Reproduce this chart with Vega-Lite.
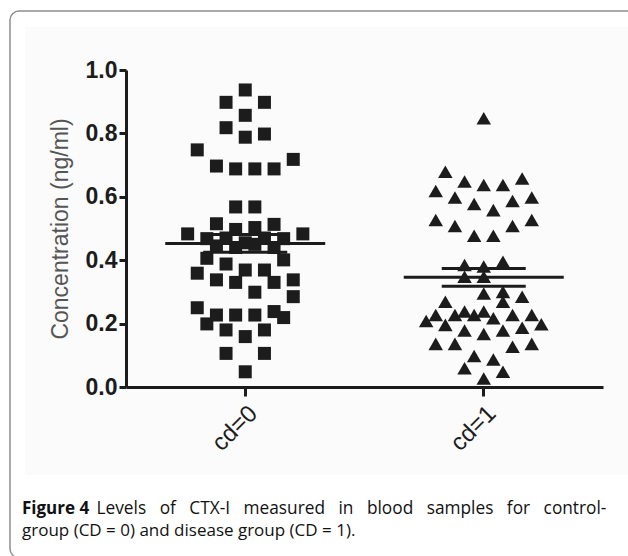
{
  "$schema": "https://vega.github.io/schema/vega-lite/v6.json",
  "width": 477,
  "height": 317,
  "autosize": "none",
  "padding": {"left": 126, "top": 70, "right": 25, "bottom": 169},
  "background": "white",
  "config": {"view": {"stroke": null}},
  "datasets": {
    "pts": [
      {"group": "cd=0", "value": 0.937, "slot": 0},
      {"group": "cd=0", "value": 0.898, "slot": -2},
      {"group": "cd=0", "value": 0.898, "slot": 2},
      {"group": "cd=0", "value": 0.857, "slot": 0},
      {"group": "cd=0", "value": 0.818, "slot": -2},
      {"group": "cd=0", "value": 0.788, "slot": 0},
      {"group": "cd=0", "value": 0.798, "slot": 2},
      {"group": "cd=0", "value": 0.748, "slot": -5},
      {"group": "cd=0", "value": 0.697, "slot": -3},
      {"group": "cd=0", "value": 0.688, "slot": -1},
      {"group": "cd=0", "value": 0.688, "slot": 1},
      {"group": "cd=0", "value": 0.688, "slot": 3},
      {"group": "cd=0", "value": 0.718, "slot": 5},
      {"group": "cd=0", "value": 0.568, "slot": -1},
      {"group": "cd=0", "value": 0.568, "slot": 1},
      {"group": "cd=0", "value": 0.483, "slot": -6},
      {"group": "cd=0", "value": 0.515, "slot": -3},
      {"group": "cd=0", "value": 0.468, "slot": -4},
      {"group": "cd=0", "value": 0.47, "slot": -2},
      {"group": "cd=0", "value": 0.497, "slot": -1},
      {"group": "cd=0", "value": 0.455, "slot": 0},
      {"group": "cd=0", "value": 0.503, "slot": 1},
      {"group": "cd=0", "value": 0.47, "slot": 2},
      {"group": "cd=0", "value": 0.513, "slot": 3},
      {"group": "cd=0", "value": 0.468, "slot": 4},
      {"group": "cd=0", "value": 0.483, "slot": 6},
      {"group": "cd=0", "value": 0.445, "slot": -3},
      {"group": "cd=0", "value": 0.44, "slot": -1},
      {"group": "cd=0", "value": 0.45, "slot": 1},
      {"group": "cd=0", "value": 0.44, "slot": 3},
      {"group": "cd=0", "value": 0.406, "slot": -4},
      {"group": "cd=0", "value": 0.388, "slot": -2},
      {"group": "cd=0", "value": 0.401, "slot": 4},
      {"group": "cd=0", "value": 0.359, "slot": -5},
      {"group": "cd=0", "value": 0.338, "slot": -3},
      {"group": "cd=0", "value": 0.33, "slot": -1},
      {"group": "cd=0", "value": 0.369, "slot": 0},
      {"group": "cd=0", "value": 0.369, "slot": 2},
      {"group": "cd=0", "value": 0.33, "slot": 3},
      {"group": "cd=0", "value": 0.338, "slot": 5},
      {"group": "cd=0", "value": 0.299, "slot": 1},
      {"group": "cd=0", "value": 0.285, "slot": 5},
      {"group": "cd=0", "value": 0.25, "slot": -5},
      {"group": "cd=0", "value": 0.227, "slot": -3},
      {"group": "cd=0", "value": 0.227, "slot": -1},
      {"group": "cd=0", "value": 0.227, "slot": 1},
      {"group": "cd=0", "value": 0.238, "slot": 3},
      {"group": "cd=0", "value": 0.219, "slot": 4},
      {"group": "cd=0", "value": 0.199, "slot": -4},
      {"group": "cd=0", "value": 0.18, "slot": -2},
      {"group": "cd=0", "value": 0.159, "slot": 0},
      {"group": "cd=0", "value": 0.18, "slot": 2},
      {"group": "cd=0", "value": 0.106, "slot": -2},
      {"group": "cd=0", "value": 0.106, "slot": 2},
      {"group": "cd=0", "value": 0.048, "slot": 0},
      {"group": "cd=1", "value": 0.848, "slot": 0},
      {"group": "cd=1", "value": 0.679, "slot": -4},
      {"group": "cd=1", "value": 0.648, "slot": -2},
      {"group": "cd=1", "value": 0.637, "slot": 0},
      {"group": "cd=1", "value": 0.637, "slot": 2},
      {"group": "cd=1", "value": 0.658, "slot": 4},
      {"group": "cd=1", "value": 0.618, "slot": -5},
      {"group": "cd=1", "value": 0.598, "slot": -3},
      {"group": "cd=1", "value": 0.577, "slot": -1},
      {"group": "cd=1", "value": 0.558, "slot": 1},
      {"group": "cd=1", "value": 0.587, "slot": 3},
      {"group": "cd=1", "value": 0.598, "slot": 5},
      {"group": "cd=1", "value": 0.527, "slot": -5},
      {"group": "cd=1", "value": 0.508, "slot": -3},
      {"group": "cd=1", "value": 0.477, "slot": -1},
      {"group": "cd=1", "value": 0.477, "slot": 1},
      {"group": "cd=1", "value": 0.508, "slot": 3},
      {"group": "cd=1", "value": 0.527, "slot": 5},
      {"group": "cd=1", "value": 0.385, "slot": -2},
      {"group": "cd=1", "value": 0.38, "slot": 0},
      {"group": "cd=1", "value": 0.395, "slot": 2},
      {"group": "cd=1", "value": 0.348, "slot": -2},
      {"group": "cd=1", "value": 0.348, "slot": 0},
      {"group": "cd=1", "value": 0.295, "slot": 0},
      {"group": "cd=1", "value": 0.3, "slot": 2},
      {"group": "cd=1", "value": 0.269, "slot": 2},
      {"group": "cd=1", "value": 0.285, "slot": 4},
      {"group": "cd=1", "value": 0.269, "slot": -4},
      {"group": "cd=1", "value": 0.227, "slot": -5},
      {"group": "cd=1", "value": 0.208, "slot": -6},
      {"group": "cd=1", "value": 0.227, "slot": -3},
      {"group": "cd=1", "value": 0.238, "slot": -2},
      {"group": "cd=1", "value": 0.227, "slot": -1},
      {"group": "cd=1", "value": 0.238, "slot": 0},
      {"group": "cd=1", "value": 0.217, "slot": 1},
      {"group": "cd=1", "value": 0.227, "slot": 3},
      {"group": "cd=1", "value": 0.227, "slot": 5},
      {"group": "cd=1", "value": 0.198, "slot": 6},
      {"group": "cd=1", "value": 0.196, "slot": -4},
      {"group": "cd=1", "value": 0.178, "slot": -2},
      {"group": "cd=1", "value": 0.167, "slot": 0},
      {"group": "cd=1", "value": 0.178, "slot": 2},
      {"group": "cd=1", "value": 0.187, "slot": 4},
      {"group": "cd=1", "value": 0.136, "slot": -5},
      {"group": "cd=1", "value": 0.136, "slot": -3},
      {"group": "cd=1", "value": 0.127, "slot": 3},
      {"group": "cd=1", "value": 0.136, "slot": 5},
      {"group": "cd=1", "value": 0.098, "slot": -1},
      {"group": "cd=1", "value": 0.087, "slot": 1},
      {"group": "cd=1", "value": 0.059, "slot": -2},
      {"group": "cd=1", "value": 0.048, "slot": 2},
      {"group": "cd=1", "value": 0.027, "slot": 0}
    ],
    "stats": [
      {"group": "cd=0", "mean": 0.453, "lo": 0.425, "hi": 0.481},
      {"group": "cd=1", "mean": 0.346, "lo": 0.318, "hi": 0.374}
    ]
  },
  "title": {
    "text": "Figure 4",
    "subtitle": "group (CD = 0) and disease group (CD = 1).",
    "orient": "bottom",
    "anchor": "start",
    "frame": "group",
    "dx": -104,
    "offset": -58,
    "font": "Open Sans",
    "fontSize": 17,
    "fontWeight": "bold",
    "color": "#111111",
    "subtitleFont": "Open Sans",
    "subtitleFontSize": 17,
    "subtitleFontWeight": "normal",
    "subtitleColor": "#111111",
    "subtitlePadding": 5
  },
  "layer": [
    {
      "data": {"values": [{}]},
      "layer": [
        {
          "mark": {"type": "rect", "fill": "#fbfbfb", "strokeWidth": 0},
          "encoding": {
            "x": {"datum": -0.2117, "type": "quantitative", "scale": {"domain": [0, 1], "nice": false, "zero": false}, "axis": null},
            "x2": {"datum": 1.06},
            "y": {"datum": 1.1356, "type": "quantitative", "scale": {"domain": [0, 1], "nice": false, "zero": false}, "axis": null},
            "y2": {"datum": -0.2776}
          }
        },
        {
          "mark": {"type": "rect", "fill": null, "fillOpacity": 0, "stroke": "#8f8f8f", "strokeWidth": 1.5, "cornerRadius": 9},
          "encoding": {
            "x": {"datum": -0.2432, "type": "quantitative"},
            "x2": {"datum": 1.08},
            "y": {"datum": 1.186, "type": "quantitative"},
            "y2": {"datum": -0.539}
          }
        }
      ]
    },
    {
      "layer": [
        {
          "data": {"name": "pts"},
          "transform": [{"filter": "datum.group === 'cd=0'"}],
          "mark": {"type": "point", "shape": "square", "filled": true, "size": 169, "color": "#1c1c1c", "opacity": 1},
          "encoding": {
            "x": {
              "field": "group", "type": "nominal",
              "scale": {"domain": ["cd=0", "cd=1"], "paddingInner": 0, "paddingOuter": 0},
              "axis": {
                "orient": "bottom", "zindex": 1,
                "title": "Levels\u00a0\u00a0 of\u00a0\u00a0 CTX-I\u00a0\u00a0 measured\u00a0\u00a0 in\u00a0\u00a0 blood\u00a0\u00a0 samples\u00a0\u00a0 for\u00a0\u00a0 control-",
                "titleX": -30, "titleY": 126, "titleAlign": "left", "titleAnchor": "start", "titleBaseline": "alphabetic",
                "titleFont": "Open Sans", "titleFontSize": 17.3, "titleFontWeight": "normal", "titleColor": "#111111",
                "domainColor": "#1c1c1c", "domainWidth": 3,
                "tickColor": "#1c1c1c", "tickWidth": 3, "tickSize": 9,
                "labelAngle": -45, "labelFont": "Liberation Sans", "labelFontSize": 24, "labelColor": "#1c1c1c",
                "labelPadding": 5
              }
            },
            "xOffset": {"field": "slot", "type": "quantitative", "scale": {"domain": [-12.42, 12.42], "range": [0, 238.5]}},
            "y": {
              "field": "value", "type": "quantitative",
              "scale": {"domain": [0, 1], "nice": false, "zero": false},
              "axis": {
                "orient": "left", "zindex": 1,
                "title": "Concentration (ng/ml)",
                "values": [0, 0.2, 0.4, 0.6, 0.8, 1.0], "format": ".1f",
                "titleFont": "Liberation Sans", "titleFontSize": 23, "titleFontWeight": "normal", "titleColor": "#555555",
                "titlePadding": 13,
                "labelFont": "Liberation Sans", "labelFontSize": 23, "labelFontWeight": "bold", "labelColor": "#1c1c1c",
                "labelPadding": 2,
                "domainColor": "#1c1c1c", "domainWidth": 3,
                "tickColor": "#1c1c1c", "tickWidth": 3, "tickSize": 7,
                "grid": false
              }
            }
          }
        },
        {
          "data": {"name": "pts"},
          "transform": [{"filter": "datum.group === 'cd=1'"}],
          "mark": {"type": "point", "shape": "triangle-up", "filled": true, "size": 210, "color": "#1c1c1c", "opacity": 1},
          "encoding": {
            "x": {"field": "group", "type": "nominal"},
            "xOffset": {"field": "slot", "type": "quantitative"},
            "y": {"field": "value", "type": "quantitative"}
          }
        },
        {
          "data": {"name": "stats"},
          "mark": {"type": "tick", "size": 160, "thickness": 3, "color": "#1c1c1c", "opacity": 1},
          "encoding": {
            "x": {"field": "group", "type": "nominal"},
            "y": {"field": "mean", "type": "quantitative"}
          }
        },
        {
          "data": {"name": "stats"},
          "mark": {"type": "tick", "size": 84, "thickness": 3, "color": "#1c1c1c", "opacity": 1},
          "encoding": {
            "x": {"field": "group", "type": "nominal"},
            "y": {"field": "lo", "type": "quantitative"}
          }
        },
        {
          "data": {"name": "stats"},
          "mark": {"type": "tick", "size": 84, "thickness": 3, "color": "#1c1c1c", "opacity": 1},
          "encoding": {
            "x": {"field": "group", "type": "nominal"},
            "y": {"field": "hi", "type": "quantitative"}
          }
        }
      ]
    }
  ],
  "resolve": {"scale": {"x": "independent", "y": "independent"}, "axis": {"x": "independent", "y": "independent"}}
}
